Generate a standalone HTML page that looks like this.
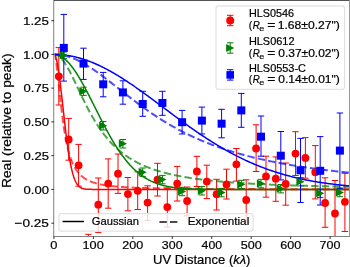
<!DOCTYPE html>
<html><head><meta charset="utf-8"><style>
html,body{margin:0;padding:0;background:#fff;}
svg{display:block;will-change:transform;}
text{font-family:"Liberation Sans",sans-serif;fill:#000;stroke:#000;stroke-width:0.2px;}
</style></head><body>
<svg width="350" height="267" viewBox="0 0 350 267">
<rect width="350" height="267" fill="#fff"/>
<defs><clipPath id="ax"><rect x="53.9" y="0.4" width="295.5" height="236.0"/></clipPath></defs>
<g clip-path="url(#ax)">
<path d="M58.80,47.60V105.00M55.60,47.60H62.00M55.60,105.00H62.00" stroke="#ff0000" stroke-width="1.0" fill="none"/>
<path d="M68.70,118.40V160.20M65.50,118.40H71.90M65.50,160.20H71.90" stroke="#ff0000" stroke-width="1.0" fill="none"/>
<path d="M78.60,144.40V186.20M75.40,144.40H81.80M75.40,186.20H81.80" stroke="#ff0000" stroke-width="1.0" fill="none"/>
<path d="M88.40,234.30V278.00M85.20,234.30H91.60M85.20,278.00H91.60" stroke="#ff0000" stroke-width="1.0" fill="none"/>
<path d="M98.30,178.00V232.40M95.10,178.00H101.50M95.10,232.40H101.50" stroke="#ff0000" stroke-width="1.0" fill="none"/>
<path d="M108.20,158.90V208.20M105.00,158.90H111.40M105.00,208.20H111.40" stroke="#ff0000" stroke-width="1.0" fill="none"/>
<path d="M118.00,154.00V193.40M114.80,154.00H121.20M114.80,193.40H121.20" stroke="#ff0000" stroke-width="1.0" fill="none"/>
<path d="M127.90,177.50V210.80M124.70,177.50H131.10M124.70,210.80H131.10" stroke="#ff0000" stroke-width="1.0" fill="none"/>
<path d="M137.70,171.80V209.50M134.50,171.80H140.90M134.50,209.50H140.90" stroke="#ff0000" stroke-width="1.0" fill="none"/>
<path d="M147.60,185.80V220.40M144.40,185.80H150.80M144.40,220.40H150.80" stroke="#ff0000" stroke-width="1.0" fill="none"/>
<path d="M157.50,163.30V196.00M154.30,163.30H160.70M154.30,196.00H160.70" stroke="#ff0000" stroke-width="1.0" fill="none"/>
<path d="M167.30,188.10V227.00M164.10,188.10H170.50M164.10,227.00H170.50" stroke="#ff0000" stroke-width="1.0" fill="none"/>
<path d="M177.20,166.40V201.00M174.00,166.40H180.40M174.00,201.00H180.40" stroke="#ff0000" stroke-width="1.0" fill="none"/>
<path d="M187.10,187.00V215.90M183.90,187.00H190.30M183.90,215.90H190.30" stroke="#ff0000" stroke-width="1.0" fill="none"/>
<path d="M196.90,156.30V186.50M193.70,156.30H200.10M193.70,186.50H200.10" stroke="#ff0000" stroke-width="1.0" fill="none"/>
<path d="M206.80,165.20V198.60M203.60,165.20H210.00M203.60,198.60H210.00" stroke="#ff0000" stroke-width="1.0" fill="none"/>
<path d="M216.60,179.30V210.00M213.40,179.30H219.80M213.40,210.00H219.80" stroke="#ff0000" stroke-width="1.0" fill="none"/>
<path d="M226.50,169.20V199.00M223.30,169.20H229.70M223.30,199.00H229.70" stroke="#ff0000" stroke-width="1.0" fill="none"/>
<path d="M236.40,148.50V181.10M233.20,148.50H239.60M233.20,181.10H239.60" stroke="#ff0000" stroke-width="1.0" fill="none"/>
<path d="M246.20,179.80V222.00M243.00,179.80H249.40M243.00,222.00H249.40" stroke="#ff0000" stroke-width="1.0" fill="none"/>
<path d="M256.10,124.80V171.50M252.90,124.80H259.30M252.90,171.50H259.30" stroke="#ff0000" stroke-width="1.0" fill="none"/>
<path d="M266.00,156.20V197.20M262.80,156.20H269.20M262.80,197.20H269.20" stroke="#ff0000" stroke-width="1.0" fill="none"/>
<path d="M275.80,156.90V201.30M272.60,156.90H279.00M272.60,201.30H279.00" stroke="#ff0000" stroke-width="1.0" fill="none"/>
<path d="M285.70,163.00V205.20M282.50,163.00H288.90M282.50,205.20H288.90" stroke="#ff0000" stroke-width="1.0" fill="none"/>
<path d="M295.50,131.70V175.50M292.30,131.70H298.70M292.30,175.50H298.70" stroke="#ff0000" stroke-width="1.0" fill="none"/>
<path d="M305.40,137.60V178.20M302.20,137.60H308.60M302.20,178.20H308.60" stroke="#ff0000" stroke-width="1.0" fill="none"/>
<path d="M315.30,145.60V198.90M312.10,145.60H318.50M312.10,198.90H318.50" stroke="#ff0000" stroke-width="1.0" fill="none"/>
<path d="M325.10,177.80V227.30M321.90,177.80H328.30M321.90,227.30H328.30" stroke="#ff0000" stroke-width="1.0" fill="none"/>
<path d="M335.00,180.50V246.50M331.80,180.50H338.20M331.80,246.50H338.20" stroke="#ff0000" stroke-width="1.0" fill="none"/>
<path d="M344.90,173.30V231.50M341.70,173.30H348.10M341.70,231.50H348.10" stroke="#ff0000" stroke-width="1.0" fill="none"/>
<path d="M53.90,54.40 L53.92,54.40 L53.96,54.40 L54.02,54.41 L54.09,54.43 L54.17,54.46 L54.26,54.51 L54.36,54.57 L54.47,54.67 L54.59,54.79 L54.72,54.95 L54.85,55.14 L55.00,55.38 L55.15,55.66 L55.30,56.00 L55.47,56.39 L55.64,56.84 L55.82,57.36 L56.00,57.94 L56.19,58.60 L56.38,59.34 L56.59,60.16 L56.79,61.06 L57.01,62.05 L57.23,63.12 L57.45,64.30 L57.68,65.56 L57.92,66.93 L58.16,68.39 L58.40,69.95 L58.65,71.62 L58.91,73.38 L59.17,75.25 L59.44,77.21 L59.71,79.27 L59.98,81.43 L60.26,83.69 L60.55,86.03 L60.84,88.46 L61.13,90.97 L61.43,93.56 L61.74,96.22 L62.04,98.95 L62.36,101.74 L62.67,104.58 L62.99,107.47 L63.32,110.40 L63.65,113.36 L63.98,116.34 L64.32,119.33 L64.66,122.34 L65.01,125.34 L65.36,128.33 L65.72,131.30 L66.08,134.24 L66.44,137.14 L66.80,140.01 L67.18,142.82 L67.55,145.57 L67.93,148.26 L68.31,150.87 L68.70,153.41 L69.09,155.86 L69.48,158.23 L69.88,160.50 L70.28,162.68 L70.68,164.76 L71.09,166.74 L71.51,168.62 L71.92,170.40 L72.34,172.08 L72.76,173.66 L73.19,175.13 L73.62,176.51 L74.06,177.79 L74.49,178.97 L74.94,180.07 L75.38,181.07 L75.83,182.00 L76.28,182.84 L76.73,183.60 L77.19,184.30 L77.65,184.93 L78.12,185.49 L78.59,186.00 L79.06,186.45 L79.54,186.85 L80.01,187.20 L80.50,187.51 L80.98,187.79 L81.47,188.03 L81.96,188.24 L82.46,188.42 L82.95,188.57 L83.46,188.71 L83.96,188.82 L84.47,188.92 L84.98,189.00 L85.49,189.07 L86.01,189.13 L86.53,189.18 L87.06,189.22 L87.58,189.26 L88.11,189.28 L88.65,189.31 L89.18,189.33 L89.72,189.34 L90.26,189.35 L90.81,189.36 L91.36,189.37 L91.91,189.38 L92.46,189.38 L93.02,189.39 L93.58,189.39 L94.14,189.39 L94.71,189.39 L95.28,189.40 L95.85,189.40 L96.43,189.40 L97.00,189.40 L97.58,189.40 L98.17,189.40 L98.76,189.40 L99.35,189.40 L99.94,189.40 L100.53,189.40 L101.13,189.40 L101.73,189.40 L102.34,189.40 L102.94,189.40 L103.55,189.40 L104.17,189.40 L104.78,189.40 L105.40,189.40 L106.02,189.40 L106.64,189.40 L107.27,189.40 L107.90,189.40 L108.53,189.40 L109.17,189.40 L109.80,189.40 L110.44,189.40 L111.09,189.40 L111.73,189.40 L112.38,189.40 L113.03,189.40 L113.69,189.40 L114.34,189.40 L115.00,189.40 L115.66,189.40 L116.33,189.40 L117.00,189.40 L117.67,189.40 L118.34,189.40 L119.01,189.40 L119.69,189.40 L120.37,189.40 L121.06,189.40 L121.74,189.40 L122.43,189.40 L123.12,189.40 L123.81,189.40 L124.51,189.40 L125.21,189.40 L125.91,189.40 L126.61,189.40 L127.32,189.40 L128.03,189.40 L128.74,189.40 L129.45,189.40 L130.17,189.40 L130.89,189.40 L131.61,189.40 L132.34,189.40 L133.06,189.40 L133.79,189.40 L134.52,189.40 L135.26,189.40 L135.99,189.40 L136.73,189.40 L137.48,189.40 L138.22,189.40 L138.97,189.40 L139.72,189.40 L140.47,189.40 L141.22,189.40 L141.98,189.40 L142.74,189.40 L143.50,189.40 L144.26,189.40 L145.03,189.40 L145.80,189.40 L146.57,189.40 L147.34,189.40 L148.12,189.40 L148.89,189.40 L149.67,189.40 L150.46,189.40 L151.24,189.40 L152.03,189.40 L152.82,189.40 L153.61,189.40 L154.41,189.40 L155.21,189.40 L156.01,189.40 L156.81,189.40 L157.61,189.40 L158.42,189.40 L159.23,189.40 L160.04,189.40 L160.85,189.40 L161.67,189.40 L162.49,189.40 L163.31,189.40 L164.13,189.40 L164.96,189.40 L165.78,189.40 L166.61,189.40 L167.45,189.40 L168.28,189.40 L169.12,189.40 L169.96,189.40 L170.80,189.40 L171.64,189.40 L172.49,189.40 L173.34,189.40 L174.19,189.40 L175.04,189.40 L175.89,189.40 L176.75,189.40 L177.61,189.40 L178.47,189.40 L179.34,189.40 L180.20,189.40 L181.07,189.40 L181.94,189.40 L182.81,189.40 L183.69,189.40 L184.57,189.40 L185.45,189.40 L186.33,189.40 L187.21,189.40 L188.10,189.40 L188.99,189.40 L189.88,189.40 L190.77,189.40 L191.66,189.40 L192.56,189.40 L193.46,189.40 L194.36,189.40 L195.27,189.40 L196.17,189.40 L197.08,189.40 L197.99,189.40 L198.90,189.40 L199.82,189.40 L200.73,189.40 L201.65,189.40 L202.57,189.40 L203.50,189.40 L204.42,189.40 L205.35,189.40 L206.28,189.40 L207.21,189.40 L208.14,189.40 L209.08,189.40 L210.02,189.40 L210.96,189.40 L211.90,189.40 L212.84,189.40 L213.79,189.40 L214.74,189.40 L215.69,189.40 L216.64,189.40 L217.60,189.40 L218.55,189.40 L219.51,189.40 L220.47,189.40 L221.44,189.40 L222.40,189.40 L223.37,189.40 L224.34,189.40 L225.31,189.40 L226.29,189.40 L227.26,189.40 L228.24,189.40 L229.22,189.40 L230.20,189.40 L231.18,189.40 L232.17,189.40 L233.16,189.40 L234.15,189.40 L235.14,189.40 L236.13,189.40 L237.13,189.40 L238.13,189.40 L239.13,189.40 L240.13,189.40 L241.14,189.40 L242.14,189.40 L243.15,189.40 L244.16,189.40 L245.17,189.40 L246.19,189.40 L247.20,189.40 L248.22,189.40 L249.24,189.40 L250.26,189.40 L251.29,189.40 L252.32,189.40 L253.34,189.40 L254.37,189.40 L255.41,189.40 L256.44,189.40 L257.48,189.40 L258.52,189.40 L259.56,189.40 L260.60,189.40 L261.64,189.40 L262.69,189.40 L263.74,189.40 L264.79,189.40 L265.84,189.40 L266.89,189.40 L267.95,189.40 L269.01,189.40 L270.07,189.40 L271.13,189.40 L272.19,189.40 L273.26,189.40 L274.33,189.40 L275.40,189.40 L276.47,189.40 L277.54,189.40 L278.62,189.40 L279.69,189.40 L280.77,189.40 L281.86,189.40 L282.94,189.40 L284.02,189.40 L285.11,189.40 L286.20,189.40 L287.29,189.40 L288.38,189.40 L289.48,189.40 L290.57,189.40 L291.67,189.40 L292.77,189.40 L293.88,189.40 L294.98,189.40 L296.09,189.40 L297.19,189.40 L298.30,189.40 L299.42,189.40 L300.53,189.40 L301.65,189.40 L302.76,189.40 L303.88,189.40 L305.00,189.40 L306.13,189.40 L307.25,189.40 L308.38,189.40 L309.51,189.40 L310.64,189.40 L311.77,189.40 L312.91,189.40 L314.04,189.40 L315.18,189.40 L316.32,189.40 L317.46,189.40 L318.61,189.40 L319.75,189.40 L320.90,189.40 L322.05,189.40 L323.20,189.40 L324.35,189.40 L325.51,189.40 L326.66,189.40 L327.82,189.40 L328.98,189.40 L330.15,189.40 L331.31,189.40 L332.48,189.40 L333.64,189.40 L334.81,189.40 L335.98,189.40 L337.16,189.40 L338.33,189.40 L339.51,189.40 L340.69,189.40 L341.87,189.40 L343.05,189.40 L344.23,189.40 L345.42,189.40 L346.61,189.40 L347.80,189.40 L348.99,189.40 L350.18,189.40 L351.38,189.40 L352.57,189.40 L353.77,189.40" fill="none" stroke="#ff0000" stroke-width="1.5" stroke-linejoin="round"/>
<path d="M53.90,54.40 L53.92,54.40 L53.96,54.41 L54.02,54.42 L54.09,54.46 L54.17,54.52 L54.26,54.61 L54.36,54.74 L54.47,54.93 L54.59,55.16 L54.72,55.47 L54.85,55.85 L55.00,56.30 L55.15,56.85 L55.30,57.49 L55.47,58.23 L55.64,59.08 L55.82,60.04 L56.00,61.11 L56.19,62.31 L56.38,63.62 L56.59,65.06 L56.79,66.61 L57.01,68.29 L57.23,70.08 L57.45,71.98 L57.68,73.99 L57.92,76.10 L58.16,78.31 L58.40,80.60 L58.65,82.97 L58.91,85.40 L59.17,87.89 L59.44,90.43 L59.71,93.01 L59.98,95.62 L60.26,98.25 L60.55,100.88 L60.84,103.51 L61.13,106.14 L61.43,108.75 L61.74,111.33 L62.04,113.88 L62.36,116.40 L62.67,118.87 L62.99,121.30 L63.32,123.67 L63.65,125.99 L63.98,128.25 L64.32,130.45 L64.66,132.59 L65.01,134.66 L65.36,136.67 L65.72,138.62 L66.08,140.50 L66.44,142.31 L66.80,144.06 L67.18,145.75 L67.55,147.38 L67.93,148.95 L68.31,150.45 L68.70,151.90 L69.09,153.30 L69.48,154.63 L69.88,155.92 L70.28,157.15 L70.68,158.34 L71.09,159.47 L71.51,160.56 L71.92,161.61 L72.34,162.61 L72.76,163.57 L73.19,164.49 L73.62,165.38 L74.06,166.22 L74.49,167.04 L74.94,167.82 L75.38,168.57 L75.83,169.28 L76.28,169.97 L76.73,170.63 L77.19,171.26 L77.65,171.87 L78.12,172.45 L78.59,173.01 L79.06,173.55 L79.54,174.07 L80.01,174.56 L80.50,175.04 L80.98,175.50 L81.47,175.94 L81.96,176.36 L82.46,176.77 L82.95,177.16 L83.46,177.53 L83.96,177.89 L84.47,178.24 L84.98,178.58 L85.49,178.90 L86.01,179.21 L86.53,179.51 L87.06,179.80 L87.58,180.07 L88.11,180.34 L88.65,180.60 L89.18,180.85 L89.72,181.09 L90.26,181.32 L90.81,181.54 L91.36,181.76 L91.91,181.96 L92.46,182.17 L93.02,182.36 L93.58,182.55 L94.14,182.73 L94.71,182.90 L95.28,183.07 L95.85,183.24 L96.43,183.39 L97.00,183.55 L97.58,183.70 L98.17,183.84 L98.76,183.98 L99.35,184.11 L99.94,184.24 L100.53,184.37 L101.13,184.49 L101.73,184.61 L102.34,184.72 L102.94,184.83 L103.55,184.94 L104.17,185.05 L104.78,185.15 L105.40,185.25 L106.02,185.34 L106.64,185.43 L107.27,185.52 L107.90,185.61 L108.53,185.70 L109.17,185.78 L109.80,185.86 L110.44,185.94 L111.09,186.01 L111.73,186.08 L112.38,186.16 L113.03,186.23 L113.69,186.29 L114.34,186.36 L115.00,186.42 L115.66,186.48 L116.33,186.55 L117.00,186.60 L117.67,186.66 L118.34,186.72 L119.01,186.77 L119.69,186.82 L120.37,186.88 L121.06,186.93 L121.74,186.97 L122.43,187.02 L123.12,187.07 L123.81,187.11 L124.51,187.16 L125.21,187.20 L125.91,187.24 L126.61,187.28 L127.32,187.32 L128.03,187.36 L128.74,187.40 L129.45,187.44 L130.17,187.47 L130.89,187.51 L131.61,187.54 L132.34,187.58 L133.06,187.61 L133.79,187.64 L134.52,187.67 L135.26,187.70 L135.99,187.73 L136.73,187.76 L137.48,187.79 L138.22,187.82 L138.97,187.85 L139.72,187.87 L140.47,187.90 L141.22,187.93 L141.98,187.95 L142.74,187.97 L143.50,188.00 L144.26,188.02 L145.03,188.04 L145.80,188.07 L146.57,188.09 L147.34,188.11 L148.12,188.13 L148.89,188.15 L149.67,188.17 L150.46,188.19 L151.24,188.21 L152.03,188.23 L152.82,188.25 L153.61,188.27 L154.41,188.28 L155.21,188.30 L156.01,188.32 L156.81,188.34 L157.61,188.35 L158.42,188.37 L159.23,188.38 L160.04,188.40 L160.85,188.41 L161.67,188.43 L162.49,188.44 L163.31,188.46 L164.13,188.47 L164.96,188.48 L165.78,188.50 L166.61,188.51 L167.45,188.52 L168.28,188.54 L169.12,188.55 L169.96,188.56 L170.80,188.57 L171.64,188.59 L172.49,188.60 L173.34,188.61 L174.19,188.62 L175.04,188.63 L175.89,188.64 L176.75,188.65 L177.61,188.66 L178.47,188.67 L179.34,188.68 L180.20,188.69 L181.07,188.70 L181.94,188.71 L182.81,188.72 L183.69,188.73 L184.57,188.74 L185.45,188.75 L186.33,188.75 L187.21,188.76 L188.10,188.77 L188.99,188.78 L189.88,188.79 L190.77,188.80 L191.66,188.80 L192.56,188.81 L193.46,188.82 L194.36,188.83 L195.27,188.83 L196.17,188.84 L197.08,188.85 L197.99,188.85 L198.90,188.86 L199.82,188.87 L200.73,188.87 L201.65,188.88 L202.57,188.89 L203.50,188.89 L204.42,188.90 L205.35,188.91 L206.28,188.91 L207.21,188.92 L208.14,188.92 L209.08,188.93 L210.02,188.94 L210.96,188.94 L211.90,188.95 L212.84,188.95 L213.79,188.96 L214.74,188.96 L215.69,188.97 L216.64,188.97 L217.60,188.98 L218.55,188.98 L219.51,188.99 L220.47,188.99 L221.44,189.00 L222.40,189.00 L223.37,189.01 L224.34,189.01 L225.31,189.01 L226.29,189.02 L227.26,189.02 L228.24,189.03 L229.22,189.03 L230.20,189.04 L231.18,189.04 L232.17,189.04 L233.16,189.05 L234.15,189.05 L235.14,189.05 L236.13,189.06 L237.13,189.06 L238.13,189.07 L239.13,189.07 L240.13,189.07 L241.14,189.08 L242.14,189.08 L243.15,189.08 L244.16,189.09 L245.17,189.09 L246.19,189.09 L247.20,189.10 L248.22,189.10 L249.24,189.10 L250.26,189.11 L251.29,189.11 L252.32,189.11 L253.34,189.11 L254.37,189.12 L255.41,189.12 L256.44,189.12 L257.48,189.13 L258.52,189.13 L259.56,189.13 L260.60,189.13 L261.64,189.14 L262.69,189.14 L263.74,189.14 L264.79,189.14 L265.84,189.15 L266.89,189.15 L267.95,189.15 L269.01,189.15 L270.07,189.16 L271.13,189.16 L272.19,189.16 L273.26,189.16 L274.33,189.17 L275.40,189.17 L276.47,189.17 L277.54,189.17 L278.62,189.18 L279.69,189.18 L280.77,189.18 L281.86,189.18 L282.94,189.18 L284.02,189.19 L285.11,189.19 L286.20,189.19 L287.29,189.19 L288.38,189.19 L289.48,189.20 L290.57,189.20 L291.67,189.20 L292.77,189.20 L293.88,189.20 L294.98,189.20 L296.09,189.21 L297.19,189.21 L298.30,189.21 L299.42,189.21 L300.53,189.21 L301.65,189.22 L302.76,189.22 L303.88,189.22 L305.00,189.22 L306.13,189.22 L307.25,189.22 L308.38,189.22 L309.51,189.23 L310.64,189.23 L311.77,189.23 L312.91,189.23 L314.04,189.23 L315.18,189.23 L316.32,189.24 L317.46,189.24 L318.61,189.24 L319.75,189.24 L320.90,189.24 L322.05,189.24 L323.20,189.24 L324.35,189.24 L325.51,189.25 L326.66,189.25 L327.82,189.25 L328.98,189.25 L330.15,189.25 L331.31,189.25 L332.48,189.25 L333.64,189.25 L334.81,189.26 L335.98,189.26 L337.16,189.26 L338.33,189.26 L339.51,189.26 L340.69,189.26 L341.87,189.26 L343.05,189.26 L344.23,189.27 L345.42,189.27 L346.61,189.27 L347.80,189.27 L348.99,189.27 L350.18,189.27 L351.38,189.27 L352.57,189.27 L353.77,189.27" fill="none" stroke="#ff0000" stroke-width="2" stroke-dasharray="7.4,3.2" stroke-dashoffset="1.3" stroke-opacity="0.7" stroke-linejoin="round"/>
<path d="M63.80,52.00V58.40M60.60,52.00H67.00M60.60,58.40H67.00" stroke="#008000" stroke-width="1.0" fill="none"/>
<path d="M83.50,87.20V95.40M80.30,87.20H86.70M80.30,95.40H86.70" stroke="#008000" stroke-width="1.0" fill="none"/>
<path d="M103.20,121.50V130.00M100.00,121.50H106.40M100.00,130.00H106.40" stroke="#008000" stroke-width="1.0" fill="none"/>
<path d="M122.90,139.50V148.00M119.70,139.50H126.10M119.70,148.00H126.10" stroke="#008000" stroke-width="1.0" fill="none"/>
<path d="M142.70,168.00V176.40M139.50,168.00H145.90M139.50,176.40H145.90" stroke="#008000" stroke-width="1.0" fill="none"/>
<path d="M162.40,175.40V183.80M159.20,175.40H165.60M159.20,183.80H165.60" stroke="#008000" stroke-width="1.0" fill="none"/>
<path d="M182.10,187.30V195.70M178.90,187.30H185.30M178.90,195.70H185.30" stroke="#008000" stroke-width="1.0" fill="none"/>
<path d="M201.90,186.60V195.00M198.70,186.60H205.10M198.70,195.00H205.10" stroke="#008000" stroke-width="1.0" fill="none"/>
<path d="M221.60,188.40V196.80M218.40,188.40H224.80M218.40,196.80H224.80" stroke="#008000" stroke-width="1.0" fill="none"/>
<path d="M241.30,180.30V188.70M238.10,180.30H244.50M238.10,188.70H244.50" stroke="#008000" stroke-width="1.0" fill="none"/>
<path d="M261.00,179.40V187.80M257.80,179.40H264.20M257.80,187.80H264.20" stroke="#008000" stroke-width="1.0" fill="none"/>
<path d="M280.80,184.50V192.90M277.60,184.50H284.00M277.60,192.90H284.00" stroke="#008000" stroke-width="1.0" fill="none"/>
<path d="M300.50,177.50V185.90M297.30,177.50H303.70M297.30,185.90H303.70" stroke="#008000" stroke-width="1.0" fill="none"/>
<path d="M320.20,189.10V197.50M317.00,189.10H323.40M317.00,197.50H323.40" stroke="#008000" stroke-width="1.0" fill="none"/>
<path d="M339.90,188.30V196.70M336.70,188.30H343.10M336.70,196.70H343.10" stroke="#008000" stroke-width="1.0" fill="none"/>
<path d="M53.90,54.40 L53.92,54.40 L53.96,54.40 L54.02,54.40 L54.09,54.40 L54.17,54.40 L54.26,54.41 L54.36,54.41 L54.47,54.41 L54.59,54.42 L54.72,54.43 L54.85,54.44 L55.00,54.45 L55.15,54.46 L55.30,54.48 L55.47,54.50 L55.64,54.52 L55.82,54.55 L56.00,54.58 L56.19,54.61 L56.38,54.65 L56.59,54.69 L56.79,54.73 L57.01,54.78 L57.23,54.84 L57.45,54.90 L57.68,54.97 L57.92,55.04 L58.16,55.12 L58.40,55.21 L58.65,55.30 L58.91,55.40 L59.17,55.50 L59.44,55.62 L59.71,55.74 L59.98,55.87 L60.26,56.01 L60.55,56.15 L60.84,56.31 L61.13,56.47 L61.43,56.64 L61.74,56.83 L62.04,57.02 L62.36,57.22 L62.67,57.44 L62.99,57.66 L63.32,57.89 L63.65,58.14 L63.98,58.40 L64.32,58.66 L64.66,58.94 L65.01,59.24 L65.36,59.54 L65.72,59.86 L66.08,60.19 L66.44,60.53 L66.80,60.88 L67.18,61.25 L67.55,61.63 L67.93,62.03 L68.31,62.43 L68.70,62.86 L69.09,63.29 L69.48,63.74 L69.88,64.21 L70.28,64.69 L70.68,65.18 L71.09,65.69 L71.51,66.21 L71.92,66.75 L72.34,67.31 L72.76,67.87 L73.19,68.46 L73.62,69.06 L74.06,69.67 L74.49,70.30 L74.94,70.94 L75.38,71.60 L75.83,72.28 L76.28,72.97 L76.73,73.67 L77.19,74.40 L77.65,75.13 L78.12,75.88 L78.59,76.65 L79.06,77.43 L79.54,78.23 L80.01,79.04 L80.50,79.86 L80.98,80.70 L81.47,81.55 L81.96,82.42 L82.46,83.31 L82.95,84.20 L83.46,85.11 L83.96,86.03 L84.47,86.97 L84.98,87.92 L85.49,88.88 L86.01,89.86 L86.53,90.84 L87.06,91.84 L87.58,92.85 L88.11,93.87 L88.65,94.90 L89.18,95.94 L89.72,97.00 L90.26,98.06 L90.81,99.13 L91.36,100.21 L91.91,101.30 L92.46,102.40 L93.02,103.51 L93.58,104.62 L94.14,105.74 L94.71,106.87 L95.28,108.00 L95.85,109.14 L96.43,110.28 L97.00,111.43 L97.58,112.58 L98.17,113.74 L98.76,114.90 L99.35,116.06 L99.94,117.23 L100.53,118.40 L101.13,119.57 L101.73,120.73 L102.34,121.90 L102.94,123.07 L103.55,124.24 L104.17,125.41 L104.78,126.58 L105.40,127.74 L106.02,128.90 L106.64,130.06 L107.27,131.21 L107.90,132.36 L108.53,133.51 L109.17,134.65 L109.80,135.78 L110.44,136.91 L111.09,138.03 L111.73,139.15 L112.38,140.26 L113.03,141.36 L113.69,142.45 L114.34,143.53 L115.00,144.60 L115.66,145.67 L116.33,146.72 L117.00,147.76 L117.67,148.80 L118.34,149.82 L119.01,150.83 L119.69,151.83 L120.37,152.81 L121.06,153.79 L121.74,154.75 L122.43,155.69 L123.12,156.63 L123.81,157.55 L124.51,158.46 L125.21,159.35 L125.91,160.23 L126.61,161.09 L127.32,161.94 L128.03,162.78 L128.74,163.60 L129.45,164.41 L130.17,165.20 L130.89,165.97 L131.61,166.73 L132.34,167.48 L133.06,168.21 L133.79,168.92 L134.52,169.62 L135.26,170.30 L135.99,170.97 L136.73,171.62 L137.48,172.26 L138.22,172.88 L138.97,173.49 L139.72,174.08 L140.47,174.65 L141.22,175.21 L141.98,175.76 L142.74,176.29 L143.50,176.80 L144.26,177.31 L145.03,177.79 L145.80,178.26 L146.57,178.72 L147.34,179.17 L148.12,179.60 L148.89,180.02 L149.67,180.42 L150.46,180.81 L151.24,181.19 L152.03,181.55 L152.82,181.91 L153.61,182.25 L154.41,182.58 L155.21,182.89 L156.01,183.20 L156.81,183.49 L157.61,183.78 L158.42,184.05 L159.23,184.31 L160.04,184.56 L160.85,184.80 L161.67,185.03 L162.49,185.26 L163.31,185.47 L164.13,185.67 L164.96,185.87 L165.78,186.06 L166.61,186.24 L167.45,186.41 L168.28,186.57 L169.12,186.73 L169.96,186.88 L170.80,187.02 L171.64,187.15 L172.49,187.28 L173.34,187.41 L174.19,187.52 L175.04,187.63 L175.89,187.74 L176.75,187.84 L177.61,187.93 L178.47,188.02 L179.34,188.11 L180.20,188.19 L181.07,188.26 L181.94,188.34 L182.81,188.41 L183.69,188.47 L184.57,188.53 L185.45,188.59 L186.33,188.64 L187.21,188.69 L188.10,188.74 L188.99,188.79 L189.88,188.83 L190.77,188.87 L191.66,188.90 L192.56,188.94 L193.46,188.97 L194.36,189.00 L195.27,189.03 L196.17,189.06 L197.08,189.08 L197.99,189.11 L198.90,189.13 L199.82,189.15 L200.73,189.17 L201.65,189.19 L202.57,189.20 L203.50,189.22 L204.42,189.23 L205.35,189.25 L206.28,189.26 L207.21,189.27 L208.14,189.28 L209.08,189.29 L210.02,189.30 L210.96,189.31 L211.90,189.32 L212.84,189.32 L213.79,189.33 L214.74,189.34 L215.69,189.34 L216.64,189.35 L217.60,189.35 L218.55,189.36 L219.51,189.36 L220.47,189.36 L221.44,189.37 L222.40,189.37 L223.37,189.37 L224.34,189.37 L225.31,189.38 L226.29,189.38 L227.26,189.38 L228.24,189.38 L229.22,189.38 L230.20,189.39 L231.18,189.39 L232.17,189.39 L233.16,189.39 L234.15,189.39 L235.14,189.39 L236.13,189.39 L237.13,189.39 L238.13,189.39 L239.13,189.39 L240.13,189.40 L241.14,189.40 L242.14,189.40 L243.15,189.40 L244.16,189.40 L245.17,189.40 L246.19,189.40 L247.20,189.40 L248.22,189.40 L249.24,189.40 L250.26,189.40 L251.29,189.40 L252.32,189.40 L253.34,189.40 L254.37,189.40 L255.41,189.40 L256.44,189.40 L257.48,189.40 L258.52,189.40 L259.56,189.40 L260.60,189.40 L261.64,189.40 L262.69,189.40 L263.74,189.40 L264.79,189.40 L265.84,189.40 L266.89,189.40 L267.95,189.40 L269.01,189.40 L270.07,189.40 L271.13,189.40 L272.19,189.40 L273.26,189.40 L274.33,189.40 L275.40,189.40 L276.47,189.40 L277.54,189.40 L278.62,189.40 L279.69,189.40 L280.77,189.40 L281.86,189.40 L282.94,189.40 L284.02,189.40 L285.11,189.40 L286.20,189.40 L287.29,189.40 L288.38,189.40 L289.48,189.40 L290.57,189.40 L291.67,189.40 L292.77,189.40 L293.88,189.40 L294.98,189.40 L296.09,189.40 L297.19,189.40 L298.30,189.40 L299.42,189.40 L300.53,189.40 L301.65,189.40 L302.76,189.40 L303.88,189.40 L305.00,189.40 L306.13,189.40 L307.25,189.40 L308.38,189.40 L309.51,189.40 L310.64,189.40 L311.77,189.40 L312.91,189.40 L314.04,189.40 L315.18,189.40 L316.32,189.40 L317.46,189.40 L318.61,189.40 L319.75,189.40 L320.90,189.40 L322.05,189.40 L323.20,189.40 L324.35,189.40 L325.51,189.40 L326.66,189.40 L327.82,189.40 L328.98,189.40 L330.15,189.40 L331.31,189.40 L332.48,189.40 L333.64,189.40 L334.81,189.40 L335.98,189.40 L337.16,189.40 L338.33,189.40 L339.51,189.40 L340.69,189.40 L341.87,189.40 L343.05,189.40 L344.23,189.40 L345.42,189.40 L346.61,189.40 L347.80,189.40 L348.99,189.40 L350.18,189.40 L351.38,189.40 L352.57,189.40 L353.77,189.40" fill="none" stroke="#008000" stroke-width="1.5" stroke-linejoin="round"/>
<path d="M53.90,54.40 L53.92,54.40 L53.96,54.40 L54.02,54.40 L54.09,54.40 L54.17,54.41 L54.26,54.41 L54.36,54.42 L54.47,54.43 L54.59,54.44 L54.72,54.45 L54.85,54.47 L55.00,54.49 L55.15,54.52 L55.30,54.55 L55.47,54.59 L55.64,54.64 L55.82,54.69 L56.00,54.74 L56.19,54.81 L56.38,54.88 L56.59,54.96 L56.79,55.05 L57.01,55.15 L57.23,55.26 L57.45,55.38 L57.68,55.51 L57.92,55.65 L58.16,55.80 L58.40,55.97 L58.65,56.15 L58.91,56.34 L59.17,56.54 L59.44,56.76 L59.71,56.99 L59.98,57.24 L60.26,57.50 L60.55,57.77 L60.84,58.07 L61.13,58.37 L61.43,58.70 L61.74,59.04 L62.04,59.40 L62.36,59.77 L62.67,60.17 L62.99,60.58 L63.32,61.00 L63.65,61.45 L63.98,61.91 L64.32,62.40 L64.66,62.90 L65.01,63.42 L65.36,63.95 L65.72,64.51 L66.08,65.08 L66.44,65.67 L66.80,66.28 L67.18,66.91 L67.55,67.56 L67.93,68.22 L68.31,68.91 L68.70,69.60 L69.09,70.32 L69.48,71.05 L69.88,71.80 L70.28,72.57 L70.68,73.35 L71.09,74.15 L71.51,74.96 L71.92,75.79 L72.34,76.63 L72.76,77.49 L73.19,78.36 L73.62,79.24 L74.06,80.13 L74.49,81.04 L74.94,81.96 L75.38,82.89 L75.83,83.83 L76.28,84.78 L76.73,85.73 L77.19,86.70 L77.65,87.67 L78.12,88.66 L78.59,89.65 L79.06,90.64 L79.54,91.64 L80.01,92.65 L80.50,93.66 L80.98,94.67 L81.47,95.69 L81.96,96.71 L82.46,97.73 L82.95,98.76 L83.46,99.78 L83.96,100.81 L84.47,101.83 L84.98,102.86 L85.49,103.88 L86.01,104.91 L86.53,105.93 L87.06,106.94 L87.58,107.96 L88.11,108.97 L88.65,109.98 L89.18,110.98 L89.72,111.98 L90.26,112.98 L90.81,113.97 L91.36,114.95 L91.91,115.93 L92.46,116.90 L93.02,117.86 L93.58,118.82 L94.14,119.77 L94.71,120.71 L95.28,121.65 L95.85,122.57 L96.43,123.49 L97.00,124.40 L97.58,125.31 L98.17,126.20 L98.76,127.08 L99.35,127.96 L99.94,128.83 L100.53,129.68 L101.13,130.53 L101.73,131.37 L102.34,132.20 L102.94,133.02 L103.55,133.83 L104.17,134.63 L104.78,135.42 L105.40,136.20 L106.02,136.97 L106.64,137.73 L107.27,138.48 L107.90,139.22 L108.53,139.95 L109.17,140.67 L109.80,141.39 L110.44,142.09 L111.09,142.78 L111.73,143.46 L112.38,144.14 L113.03,144.80 L113.69,145.46 L114.34,146.10 L115.00,146.74 L115.66,147.36 L116.33,147.98 L117.00,148.59 L117.67,149.19 L118.34,149.78 L119.01,150.36 L119.69,150.93 L120.37,151.49 L121.06,152.05 L121.74,152.60 L122.43,153.13 L123.12,153.66 L123.81,154.18 L124.51,154.70 L125.21,155.20 L125.91,155.70 L126.61,156.19 L127.32,156.67 L128.03,157.15 L128.74,157.61 L129.45,158.07 L130.17,158.52 L130.89,158.97 L131.61,159.41 L132.34,159.84 L133.06,160.26 L133.79,160.68 L134.52,161.09 L135.26,161.49 L135.99,161.89 L136.73,162.28 L137.48,162.66 L138.22,163.04 L138.97,163.41 L139.72,163.78 L140.47,164.14 L141.22,164.49 L141.98,164.84 L142.74,165.18 L143.50,165.52 L144.26,165.85 L145.03,166.18 L145.80,166.50 L146.57,166.82 L147.34,167.13 L148.12,167.43 L148.89,167.73 L149.67,168.03 L150.46,168.32 L151.24,168.61 L152.03,168.89 L152.82,169.17 L153.61,169.44 L154.41,169.71 L155.21,169.97 L156.01,170.23 L156.81,170.49 L157.61,170.74 L158.42,170.99 L159.23,171.23 L160.04,171.47 L160.85,171.71 L161.67,171.94 L162.49,172.17 L163.31,172.40 L164.13,172.62 L164.96,172.83 L165.78,173.05 L166.61,173.26 L167.45,173.47 L168.28,173.67 L169.12,173.87 L169.96,174.07 L170.80,174.27 L171.64,174.46 L172.49,174.65 L173.34,174.84 L174.19,175.02 L175.04,175.20 L175.89,175.38 L176.75,175.55 L177.61,175.72 L178.47,175.89 L179.34,176.06 L180.20,176.23 L181.07,176.39 L181.94,176.55 L182.81,176.70 L183.69,176.86 L184.57,177.01 L185.45,177.16 L186.33,177.31 L187.21,177.46 L188.10,177.60 L188.99,177.74 L189.88,177.88 L190.77,178.02 L191.66,178.15 L192.56,178.29 L193.46,178.42 L194.36,178.55 L195.27,178.67 L196.17,178.80 L197.08,178.92 L197.99,179.04 L198.90,179.16 L199.82,179.28 L200.73,179.40 L201.65,179.51 L202.57,179.63 L203.50,179.74 L204.42,179.85 L205.35,179.96 L206.28,180.06 L207.21,180.17 L208.14,180.27 L209.08,180.38 L210.02,180.48 L210.96,180.58 L211.90,180.67 L212.84,180.77 L213.79,180.87 L214.74,180.96 L215.69,181.05 L216.64,181.14 L217.60,181.24 L218.55,181.32 L219.51,181.41 L220.47,181.50 L221.44,181.58 L222.40,181.67 L223.37,181.75 L224.34,181.83 L225.31,181.91 L226.29,181.99 L227.26,182.07 L228.24,182.15 L229.22,182.23 L230.20,182.30 L231.18,182.38 L232.17,182.45 L233.16,182.52 L234.15,182.59 L235.14,182.66 L236.13,182.73 L237.13,182.80 L238.13,182.87 L239.13,182.94 L240.13,183.00 L241.14,183.07 L242.14,183.13 L243.15,183.20 L244.16,183.26 L245.17,183.32 L246.19,183.38 L247.20,183.44 L248.22,183.50 L249.24,183.56 L250.26,183.62 L251.29,183.68 L252.32,183.73 L253.34,183.79 L254.37,183.84 L255.41,183.90 L256.44,183.95 L257.48,184.01 L258.52,184.06 L259.56,184.11 L260.60,184.16 L261.64,184.21 L262.69,184.26 L263.74,184.31 L264.79,184.36 L265.84,184.41 L266.89,184.45 L267.95,184.50 L269.01,184.55 L270.07,184.59 L271.13,184.64 L272.19,184.68 L273.26,184.73 L274.33,184.77 L275.40,184.81 L276.47,184.86 L277.54,184.90 L278.62,184.94 L279.69,184.98 L280.77,185.02 L281.86,185.06 L282.94,185.10 L284.02,185.14 L285.11,185.18 L286.20,185.22 L287.29,185.26 L288.38,185.29 L289.48,185.33 L290.57,185.37 L291.67,185.40 L292.77,185.44 L293.88,185.47 L294.98,185.51 L296.09,185.54 L297.19,185.58 L298.30,185.61 L299.42,185.64 L300.53,185.68 L301.65,185.71 L302.76,185.74 L303.88,185.77 L305.00,185.80 L306.13,185.84 L307.25,185.87 L308.38,185.90 L309.51,185.93 L310.64,185.96 L311.77,185.99 L312.91,186.02 L314.04,186.04 L315.18,186.07 L316.32,186.10 L317.46,186.13 L318.61,186.16 L319.75,186.18 L320.90,186.21 L322.05,186.24 L323.20,186.26 L324.35,186.29 L325.51,186.32 L326.66,186.34 L327.82,186.37 L328.98,186.39 L330.15,186.42 L331.31,186.44 L332.48,186.46 L333.64,186.49 L334.81,186.51 L335.98,186.54 L337.16,186.56 L338.33,186.58 L339.51,186.60 L340.69,186.63 L341.87,186.65 L343.05,186.67 L344.23,186.69 L345.42,186.71 L346.61,186.74 L347.80,186.76 L348.99,186.78 L350.18,186.80 L351.38,186.82 L352.57,186.84 L353.77,186.86" fill="none" stroke="#008000" stroke-width="2" stroke-dasharray="7.4,3.2" stroke-dashoffset="1.3" stroke-opacity="0.7" stroke-linejoin="round"/>
<path d="M63.80,14.40V81.10M60.60,14.40H67.00M60.60,81.10H67.00" stroke="#0000ff" stroke-width="1.0" fill="none"/>
<path d="M83.50,48.20V79.40M80.30,48.20H86.70M80.30,79.40H86.70" stroke="#0000ff" stroke-width="1.0" fill="none"/>
<path d="M103.20,72.40V96.80M100.00,72.40H106.40M100.00,96.80H106.40" stroke="#0000ff" stroke-width="1.0" fill="none"/>
<path d="M122.90,80.80V104.20M119.70,80.80H126.10M119.70,104.20H126.10" stroke="#0000ff" stroke-width="1.0" fill="none"/>
<path d="M142.70,91.30V116.30M139.50,91.30H145.90M139.50,116.30H145.90" stroke="#0000ff" stroke-width="1.0" fill="none"/>
<path d="M162.40,91.30V115.30M159.20,91.30H165.60M159.20,115.30H165.60" stroke="#0000ff" stroke-width="1.0" fill="none"/>
<path d="M182.10,110.40V134.00M178.90,110.40H185.30M178.90,134.00H185.30" stroke="#0000ff" stroke-width="1.0" fill="none"/>
<path d="M201.90,107.10V134.00M198.70,107.10H205.10M198.70,134.00H205.10" stroke="#0000ff" stroke-width="1.0" fill="none"/>
<path d="M221.60,109.30V137.80M218.40,109.30H224.80M218.40,137.80H224.80" stroke="#0000ff" stroke-width="1.0" fill="none"/>
<path d="M241.30,93.40V127.30M238.10,93.40H244.50M238.10,127.30H244.50" stroke="#0000ff" stroke-width="1.0" fill="none"/>
<path d="M261.00,116.00V156.20M257.80,116.00H264.20M257.80,156.20H264.20" stroke="#0000ff" stroke-width="1.0" fill="none"/>
<path d="M280.80,131.50V179.90M277.60,131.50H284.00M277.60,179.90H284.00" stroke="#0000ff" stroke-width="1.0" fill="none"/>
<path d="M300.50,138.40V202.50M297.30,138.40H303.70M297.30,202.50H303.70" stroke="#0000ff" stroke-width="1.0" fill="none"/>
<path d="M320.20,136.60V205.00M317.00,136.60H323.40M317.00,205.00H323.40" stroke="#0000ff" stroke-width="1.0" fill="none"/>
<path d="M339.90,113.00V188.20M336.70,113.00H343.10M336.70,188.20H343.10" stroke="#0000ff" stroke-width="1.0" fill="none"/>
<path d="M53.90,54.40 L53.92,54.40 L53.96,54.40 L54.02,54.40 L54.09,54.40 L54.17,54.40 L54.26,54.40 L54.36,54.40 L54.47,54.40 L54.59,54.40 L54.72,54.40 L54.85,54.41 L55.00,54.41 L55.15,54.41 L55.30,54.41 L55.47,54.41 L55.64,54.42 L55.82,54.42 L56.00,54.42 L56.19,54.43 L56.38,54.43 L56.59,54.44 L56.79,54.45 L57.01,54.45 L57.23,54.46 L57.45,54.47 L57.68,54.48 L57.92,54.49 L58.16,54.50 L58.40,54.51 L58.65,54.53 L58.91,54.54 L59.17,54.56 L59.44,54.57 L59.71,54.59 L59.98,54.61 L60.26,54.63 L60.55,54.65 L60.84,54.67 L61.13,54.69 L61.43,54.72 L61.74,54.75 L62.04,54.77 L62.36,54.80 L62.67,54.83 L62.99,54.87 L63.32,54.90 L63.65,54.93 L63.98,54.97 L64.32,55.01 L64.66,55.05 L65.01,55.09 L65.36,55.14 L65.72,55.18 L66.08,55.23 L66.44,55.28 L66.80,55.34 L67.18,55.39 L67.55,55.45 L67.93,55.50 L68.31,55.57 L68.70,55.63 L69.09,55.69 L69.48,55.76 L69.88,55.83 L70.28,55.90 L70.68,55.98 L71.09,56.06 L71.51,56.14 L71.92,56.22 L72.34,56.30 L72.76,56.39 L73.19,56.48 L73.62,56.57 L74.06,56.67 L74.49,56.77 L74.94,56.87 L75.38,56.98 L75.83,57.08 L76.28,57.19 L76.73,57.31 L77.19,57.42 L77.65,57.54 L78.12,57.67 L78.59,57.79 L79.06,57.92 L79.54,58.05 L80.01,58.19 L80.50,58.33 L80.98,58.47 L81.47,58.62 L81.96,58.77 L82.46,58.92 L82.95,59.08 L83.46,59.23 L83.96,59.40 L84.47,59.57 L84.98,59.74 L85.49,59.91 L86.01,60.09 L86.53,60.27 L87.06,60.46 L87.58,60.65 L88.11,60.84 L88.65,61.04 L89.18,61.24 L89.72,61.44 L90.26,61.65 L90.81,61.86 L91.36,62.08 L91.91,62.30 L92.46,62.53 L93.02,62.76 L93.58,62.99 L94.14,63.23 L94.71,63.47 L95.28,63.71 L95.85,63.96 L96.43,64.22 L97.00,64.48 L97.58,64.74 L98.17,65.01 L98.76,65.28 L99.35,65.55 L99.94,65.83 L100.53,66.12 L101.13,66.41 L101.73,66.70 L102.34,67.00 L102.94,67.30 L103.55,67.61 L104.17,67.92 L104.78,68.23 L105.40,68.55 L106.02,68.88 L106.64,69.20 L107.27,69.54 L107.90,69.87 L108.53,70.22 L109.17,70.56 L109.80,70.91 L110.44,71.27 L111.09,71.63 L111.73,71.99 L112.38,72.36 L113.03,72.74 L113.69,73.12 L114.34,73.50 L115.00,73.89 L115.66,74.28 L116.33,74.67 L117.00,75.07 L117.67,75.48 L118.34,75.89 L119.01,76.30 L119.69,76.72 L120.37,77.14 L121.06,77.57 L121.74,78.00 L122.43,78.44 L123.12,78.88 L123.81,79.32 L124.51,79.77 L125.21,80.22 L125.91,80.68 L126.61,81.14 L127.32,81.61 L128.03,82.08 L128.74,82.55 L129.45,83.03 L130.17,83.51 L130.89,84.00 L131.61,84.49 L132.34,84.98 L133.06,85.48 L133.79,85.98 L134.52,86.49 L135.26,87.00 L135.99,87.51 L136.73,88.03 L137.48,88.55 L138.22,89.07 L138.97,89.60 L139.72,90.13 L140.47,90.67 L141.22,91.21 L141.98,91.75 L142.74,92.30 L143.50,92.84 L144.26,93.40 L145.03,93.95 L145.80,94.51 L146.57,95.07 L147.34,95.64 L148.12,96.21 L148.89,96.78 L149.67,97.35 L150.46,97.93 L151.24,98.51 L152.03,99.09 L152.82,99.68 L153.61,100.26 L154.41,100.86 L155.21,101.45 L156.01,102.04 L156.81,102.64 L157.61,103.24 L158.42,103.84 L159.23,104.45 L160.04,105.05 L160.85,105.66 L161.67,106.27 L162.49,106.88 L163.31,107.50 L164.13,108.11 L164.96,108.73 L165.78,109.35 L166.61,109.97 L167.45,110.59 L168.28,111.22 L169.12,111.84 L169.96,112.47 L170.80,113.09 L171.64,113.72 L172.49,114.35 L173.34,114.98 L174.19,115.61 L175.04,116.24 L175.89,116.88 L176.75,117.51 L177.61,118.14 L178.47,118.78 L179.34,119.41 L180.20,120.04 L181.07,120.68 L181.94,121.31 L182.81,121.95 L183.69,122.58 L184.57,123.22 L185.45,123.85 L186.33,124.48 L187.21,125.12 L188.10,125.75 L188.99,126.38 L189.88,127.02 L190.77,127.65 L191.66,128.28 L192.56,128.91 L193.46,129.54 L194.36,130.16 L195.27,130.79 L196.17,131.42 L197.08,132.04 L197.99,132.66 L198.90,133.28 L199.82,133.90 L200.73,134.52 L201.65,135.14 L202.57,135.75 L203.50,136.37 L204.42,136.98 L205.35,137.59 L206.28,138.19 L207.21,138.80 L208.14,139.40 L209.08,140.00 L210.02,140.60 L210.96,141.20 L211.90,141.79 L212.84,142.38 L213.79,142.97 L214.74,143.56 L215.69,144.14 L216.64,144.72 L217.60,145.30 L218.55,145.87 L219.51,146.45 L220.47,147.01 L221.44,147.58 L222.40,148.14 L223.37,148.70 L224.34,149.26 L225.31,149.81 L226.29,150.36 L227.26,150.91 L228.24,151.45 L229.22,151.99 L230.20,152.52 L231.18,153.05 L232.17,153.58 L233.16,154.11 L234.15,154.63 L235.14,155.14 L236.13,155.66 L237.13,156.17 L238.13,156.67 L239.13,157.17 L240.13,157.67 L241.14,158.16 L242.14,158.65 L243.15,159.14 L244.16,159.62 L245.17,160.09 L246.19,160.57 L247.20,161.03 L248.22,161.50 L249.24,161.96 L250.26,162.41 L251.29,162.86 L252.32,163.31 L253.34,163.75 L254.37,164.19 L255.41,164.62 L256.44,165.05 L257.48,165.47 L258.52,165.89 L259.56,166.31 L260.60,166.72 L261.64,167.13 L262.69,167.53 L263.74,167.92 L264.79,168.32 L265.84,168.70 L266.89,169.09 L267.95,169.47 L269.01,169.84 L270.07,170.21 L271.13,170.58 L272.19,170.94 L273.26,171.29 L274.33,171.64 L275.40,171.99 L276.47,172.33 L277.54,172.67 L278.62,173.01 L279.69,173.33 L280.77,173.66 L281.86,173.98 L282.94,174.29 L284.02,174.61 L285.11,174.91 L286.20,175.21 L287.29,175.51 L288.38,175.80 L289.48,176.09 L290.57,176.38 L291.67,176.66 L292.77,176.93 L293.88,177.21 L294.98,177.47 L296.09,177.74 L297.19,178.00 L298.30,178.25 L299.42,178.50 L300.53,178.75 L301.65,178.99 L302.76,179.23 L303.88,179.46 L305.00,179.69 L306.13,179.92 L307.25,180.14 L308.38,180.36 L309.51,180.58 L310.64,180.79 L311.77,180.99 L312.91,181.20 L314.04,181.40 L315.18,181.59 L316.32,181.79 L317.46,181.97 L318.61,182.16 L319.75,182.34 L320.90,182.52 L322.05,182.69 L323.20,182.86 L324.35,183.03 L325.51,183.20 L326.66,183.36 L327.82,183.51 L328.98,183.67 L330.15,183.82 L331.31,183.97 L332.48,184.11 L333.64,184.26 L334.81,184.39 L335.98,184.53 L337.16,184.66 L338.33,184.79 L339.51,184.92 L340.69,185.04 L341.87,185.17 L343.05,185.29 L344.23,185.40 L345.42,185.52 L346.61,185.63 L347.80,185.73 L348.99,185.84 L350.18,185.94 L351.38,186.04 L352.57,186.14 L353.77,186.24" fill="none" stroke="#0000ff" stroke-width="1.5" stroke-linejoin="round"/>
<path d="M53.90,54.40 L53.92,54.40 L53.96,54.40 L54.02,54.40 L54.09,54.40 L54.17,54.40 L54.26,54.40 L54.36,54.40 L54.47,54.40 L54.59,54.41 L54.72,54.41 L54.85,54.41 L55.00,54.41 L55.15,54.42 L55.30,54.42 L55.47,54.43 L55.64,54.43 L55.82,54.44 L56.00,54.45 L56.19,54.46 L56.38,54.47 L56.59,54.48 L56.79,54.49 L57.01,54.51 L57.23,54.52 L57.45,54.54 L57.68,54.56 L57.92,54.58 L58.16,54.60 L58.40,54.62 L58.65,54.65 L58.91,54.67 L59.17,54.70 L59.44,54.73 L59.71,54.77 L59.98,54.80 L60.26,54.84 L60.55,54.88 L60.84,54.92 L61.13,54.97 L61.43,55.02 L61.74,55.07 L62.04,55.12 L62.36,55.18 L62.67,55.24 L62.99,55.30 L63.32,55.36 L63.65,55.43 L63.98,55.50 L64.32,55.58 L64.66,55.65 L65.01,55.74 L65.36,55.82 L65.72,55.91 L66.08,56.00 L66.44,56.10 L66.80,56.20 L67.18,56.30 L67.55,56.41 L67.93,56.52 L68.31,56.63 L68.70,56.75 L69.09,56.87 L69.48,57.00 L69.88,57.13 L70.28,57.27 L70.68,57.41 L71.09,57.55 L71.51,57.70 L71.92,57.86 L72.34,58.02 L72.76,58.18 L73.19,58.35 L73.62,58.52 L74.06,58.70 L74.49,58.88 L74.94,59.07 L75.38,59.26 L75.83,59.46 L76.28,59.66 L76.73,59.87 L77.19,60.08 L77.65,60.30 L78.12,60.52 L78.59,60.75 L79.06,60.98 L79.54,61.22 L80.01,61.46 L80.50,61.71 L80.98,61.97 L81.47,62.22 L81.96,62.49 L82.46,62.76 L82.95,63.04 L83.46,63.32 L83.96,63.60 L84.47,63.89 L84.98,64.19 L85.49,64.49 L86.01,64.80 L86.53,65.11 L87.06,65.43 L87.58,65.76 L88.11,66.08 L88.65,66.42 L89.18,66.76 L89.72,67.10 L90.26,67.45 L90.81,67.81 L91.36,68.17 L91.91,68.53 L92.46,68.90 L93.02,69.28 L93.58,69.66 L94.14,70.05 L94.71,70.44 L95.28,70.83 L95.85,71.23 L96.43,71.64 L97.00,72.05 L97.58,72.46 L98.17,72.88 L98.76,73.31 L99.35,73.74 L99.94,74.17 L100.53,74.61 L101.13,75.05 L101.73,75.50 L102.34,75.95 L102.94,76.40 L103.55,76.86 L104.17,77.32 L104.78,77.79 L105.40,78.26 L106.02,78.74 L106.64,79.21 L107.27,79.70 L107.90,80.18 L108.53,80.67 L109.17,81.16 L109.80,81.66 L110.44,82.16 L111.09,82.66 L111.73,83.16 L112.38,83.67 L113.03,84.18 L113.69,84.70 L114.34,85.21 L115.00,85.73 L115.66,86.25 L116.33,86.78 L117.00,87.30 L117.67,87.83 L118.34,88.36 L119.01,88.89 L119.69,89.43 L120.37,89.97 L121.06,90.50 L121.74,91.04 L122.43,91.59 L123.12,92.13 L123.81,92.67 L124.51,93.22 L125.21,93.76 L125.91,94.31 L126.61,94.86 L127.32,95.41 L128.03,95.96 L128.74,96.51 L129.45,97.07 L130.17,97.62 L130.89,98.17 L131.61,98.73 L132.34,99.28 L133.06,99.83 L133.79,100.39 L134.52,100.94 L135.26,101.50 L135.99,102.05 L136.73,102.61 L137.48,103.16 L138.22,103.71 L138.97,104.27 L139.72,104.82 L140.47,105.37 L141.22,105.92 L141.98,106.47 L142.74,107.02 L143.50,107.57 L144.26,108.12 L145.03,108.67 L145.80,109.21 L146.57,109.76 L147.34,110.30 L148.12,110.85 L148.89,111.39 L149.67,111.93 L150.46,112.46 L151.24,113.00 L152.03,113.54 L152.82,114.07 L153.61,114.60 L154.41,115.13 L155.21,115.66 L156.01,116.19 L156.81,116.71 L157.61,117.23 L158.42,117.76 L159.23,118.27 L160.04,118.79 L160.85,119.31 L161.67,119.82 L162.49,120.33 L163.31,120.84 L164.13,121.34 L164.96,121.85 L165.78,122.35 L166.61,122.85 L167.45,123.34 L168.28,123.84 L169.12,124.33 L169.96,124.82 L170.80,125.30 L171.64,125.79 L172.49,126.27 L173.34,126.75 L174.19,127.22 L175.04,127.70 L175.89,128.17 L176.75,128.64 L177.61,129.10 L178.47,129.56 L179.34,130.02 L180.20,130.48 L181.07,130.94 L181.94,131.39 L182.81,131.84 L183.69,132.28 L184.57,132.73 L185.45,133.17 L186.33,133.61 L187.21,134.04 L188.10,134.47 L188.99,134.90 L189.88,135.33 L190.77,135.75 L191.66,136.17 L192.56,136.59 L193.46,137.01 L194.36,137.42 L195.27,137.83 L196.17,138.23 L197.08,138.64 L197.99,139.04 L198.90,139.44 L199.82,139.83 L200.73,140.22 L201.65,140.61 L202.57,141.00 L203.50,141.38 L204.42,141.76 L205.35,142.14 L206.28,142.52 L207.21,142.89 L208.14,143.26 L209.08,143.63 L210.02,143.99 L210.96,144.35 L211.90,144.71 L212.84,145.07 L213.79,145.42 L214.74,145.77 L215.69,146.12 L216.64,146.46 L217.60,146.80 L218.55,147.14 L219.51,147.48 L220.47,147.81 L221.44,148.14 L222.40,148.47 L223.37,148.80 L224.34,149.12 L225.31,149.44 L226.29,149.76 L227.26,150.07 L228.24,150.39 L229.22,150.70 L230.20,151.00 L231.18,151.31 L232.17,151.61 L233.16,151.91 L234.15,152.21 L235.14,152.50 L236.13,152.80 L237.13,153.09 L238.13,153.38 L239.13,153.66 L240.13,153.94 L241.14,154.22 L242.14,154.50 L243.15,154.78 L244.16,155.05 L245.17,155.32 L246.19,155.59 L247.20,155.86 L248.22,156.12 L249.24,156.38 L250.26,156.64 L251.29,156.90 L252.32,157.16 L253.34,157.41 L254.37,157.66 L255.41,157.91 L256.44,158.16 L257.48,158.40 L258.52,158.64 L259.56,158.88 L260.60,159.12 L261.64,159.36 L262.69,159.59 L263.74,159.82 L264.79,160.05 L265.84,160.28 L266.89,160.51 L267.95,160.73 L269.01,160.95 L270.07,161.17 L271.13,161.39 L272.19,161.61 L273.26,161.82 L274.33,162.03 L275.40,162.24 L276.47,162.45 L277.54,162.66 L278.62,162.87 L279.69,163.07 L280.77,163.27 L281.86,163.47 L282.94,163.67 L284.02,163.86 L285.11,164.06 L286.20,164.25 L287.29,164.44 L288.38,164.63 L289.48,164.82 L290.57,165.01 L291.67,165.19 L292.77,165.37 L293.88,165.56 L294.98,165.74 L296.09,165.91 L297.19,166.09 L298.30,166.27 L299.42,166.44 L300.53,166.61 L301.65,166.78 L302.76,166.95 L303.88,167.12 L305.00,167.28 L306.13,167.45 L307.25,167.61 L308.38,167.77 L309.51,167.93 L310.64,168.09 L311.77,168.25 L312.91,168.41 L314.04,168.56 L315.18,168.71 L316.32,168.87 L317.46,169.02 L318.61,169.17 L319.75,169.31 L320.90,169.46 L322.05,169.61 L323.20,169.75 L324.35,169.89 L325.51,170.04 L326.66,170.18 L327.82,170.32 L328.98,170.45 L330.15,170.59 L331.31,170.73 L332.48,170.86 L333.64,170.99 L334.81,171.13 L335.98,171.26 L337.16,171.39 L338.33,171.52 L339.51,171.64 L340.69,171.77 L341.87,171.90 L343.05,172.02 L344.23,172.14 L345.42,172.27 L346.61,172.39 L347.80,172.51 L348.99,172.63 L350.18,172.75 L351.38,172.86 L352.57,172.98 L353.77,173.09" fill="none" stroke="#0000ff" stroke-width="2" stroke-dasharray="7.4,3.2" stroke-dashoffset="1.3" stroke-opacity="0.7" stroke-linejoin="round"/>
<circle cx="58.80" cy="76.30" r="3.9" fill="#ff0000"/>
<circle cx="68.70" cy="139.40" r="3.9" fill="#ff0000"/>
<circle cx="78.60" cy="165.30" r="3.9" fill="#ff0000"/>
<circle cx="88.40" cy="256.00" r="3.9" fill="#ff0000"/>
<circle cx="98.30" cy="204.70" r="3.9" fill="#ff0000"/>
<circle cx="108.20" cy="183.60" r="3.9" fill="#ff0000"/>
<circle cx="118.00" cy="173.70" r="3.9" fill="#ff0000"/>
<circle cx="127.90" cy="194.10" r="3.9" fill="#ff0000"/>
<circle cx="137.70" cy="190.80" r="3.9" fill="#ff0000"/>
<circle cx="147.60" cy="202.60" r="3.9" fill="#ff0000"/>
<circle cx="157.50" cy="179.60" r="3.9" fill="#ff0000"/>
<circle cx="167.30" cy="207.10" r="3.9" fill="#ff0000"/>
<circle cx="177.20" cy="183.60" r="3.9" fill="#ff0000"/>
<circle cx="187.10" cy="201.00" r="3.9" fill="#ff0000"/>
<circle cx="196.90" cy="171.40" r="3.9" fill="#ff0000"/>
<circle cx="206.80" cy="181.60" r="3.9" fill="#ff0000"/>
<circle cx="216.60" cy="194.20" r="3.9" fill="#ff0000"/>
<circle cx="226.50" cy="184.50" r="3.9" fill="#ff0000"/>
<circle cx="236.40" cy="164.30" r="3.9" fill="#ff0000"/>
<circle cx="246.20" cy="200.00" r="3.9" fill="#ff0000"/>
<circle cx="256.10" cy="148.50" r="3.9" fill="#ff0000"/>
<circle cx="266.00" cy="176.40" r="3.9" fill="#ff0000"/>
<circle cx="275.80" cy="178.70" r="3.9" fill="#ff0000"/>
<circle cx="285.70" cy="184.00" r="3.9" fill="#ff0000"/>
<circle cx="295.50" cy="153.60" r="3.9" fill="#ff0000"/>
<circle cx="305.40" cy="157.90" r="3.9" fill="#ff0000"/>
<circle cx="315.30" cy="172.20" r="3.9" fill="#ff0000"/>
<circle cx="325.10" cy="203.00" r="3.9" fill="#ff0000"/>
<circle cx="335.00" cy="213.50" r="3.9" fill="#ff0000"/>
<circle cx="344.90" cy="201.80" r="3.9" fill="#ff0000"/>
<path d="M67.90,55.20L59.70,51.10L59.70,59.30Z" fill="#008000"/>
<path d="M87.60,91.30L79.40,87.20L79.40,95.40Z" fill="#008000"/>
<path d="M107.30,125.70L99.10,121.60L99.10,129.80Z" fill="#008000"/>
<path d="M127.00,143.70L118.80,139.60L118.80,147.80Z" fill="#008000"/>
<path d="M146.80,172.20L138.60,168.10L138.60,176.30Z" fill="#008000"/>
<path d="M166.50,179.60L158.30,175.50L158.30,183.70Z" fill="#008000"/>
<path d="M186.20,191.50L178.00,187.40L178.00,195.60Z" fill="#008000"/>
<path d="M206.00,190.80L197.80,186.70L197.80,194.90Z" fill="#008000"/>
<path d="M225.70,192.60L217.50,188.50L217.50,196.70Z" fill="#008000"/>
<path d="M245.40,184.50L237.20,180.40L237.20,188.60Z" fill="#008000"/>
<path d="M265.10,183.60L256.90,179.50L256.90,187.70Z" fill="#008000"/>
<path d="M284.90,188.70L276.70,184.60L276.70,192.80Z" fill="#008000"/>
<path d="M304.60,181.70L296.40,177.60L296.40,185.80Z" fill="#008000"/>
<path d="M324.30,193.30L316.10,189.20L316.10,197.40Z" fill="#008000"/>
<path d="M344.00,192.50L335.80,188.40L335.80,196.60Z" fill="#008000"/>
<rect x="59.80" y="43.90" width="8.0" height="8.0" fill="#0000ff"/>
<rect x="79.50" y="59.60" width="8.0" height="8.0" fill="#0000ff"/>
<rect x="99.20" y="80.30" width="8.0" height="8.0" fill="#0000ff"/>
<rect x="118.90" y="88.40" width="8.0" height="8.0" fill="#0000ff"/>
<rect x="138.70" y="100.00" width="8.0" height="8.0" fill="#0000ff"/>
<rect x="158.40" y="99.00" width="8.0" height="8.0" fill="#0000ff"/>
<rect x="178.10" y="118.20" width="8.0" height="8.0" fill="#0000ff"/>
<rect x="197.90" y="116.60" width="8.0" height="8.0" fill="#0000ff"/>
<rect x="217.60" y="119.70" width="8.0" height="8.0" fill="#0000ff"/>
<rect x="237.30" y="106.40" width="8.0" height="8.0" fill="#0000ff"/>
<rect x="257.00" y="132.70" width="8.0" height="8.0" fill="#0000ff"/>
<rect x="276.80" y="151.70" width="8.0" height="8.0" fill="#0000ff"/>
<rect x="296.50" y="166.30" width="8.0" height="8.0" fill="#0000ff"/>
<rect x="316.20" y="166.80" width="8.0" height="8.0" fill="#0000ff"/>
<rect x="335.90" y="146.60" width="8.0" height="8.0" fill="#0000ff"/>
</g>
<rect x="54" y="0" width="296" height="1" fill="#555"/>
<rect x="53" y="236" width="297" height="1" fill="#808080"/>
<rect x="53" y="0" width="1" height="237" fill="#9b9b9b"/>
<rect x="54" y="1" width="1" height="235" fill="#d2d2d2" fill-opacity="0.6"/>
<rect x="349" y="0" width="1" height="237" fill="#969696"/>
<path d="M53.90,236.4v2.6 M93.36,236.4v2.6 M132.81,236.4v2.6 M172.27,236.4v2.6 M211.73,236.4v2.6 M251.19,236.4v2.6 M290.64,236.4v2.6 M330.10,236.4v2.6 M53.9,20.65h-2.6 M53.9,54.40h-2.6 M53.9,88.15h-2.6 M53.9,121.90h-2.6 M53.9,155.65h-2.6 M53.9,189.40h-2.6 M53.9,223.15h-2.6" stroke="#000" stroke-width="0.8"/>
<text id="xt0" x="50.25" y="249.25" font-size="11.60" textLength="7.15" lengthAdjust="spacingAndGlyphs">0</text>
<text id="xt1" x="82.53" y="249.25" font-size="11.60" textLength="21.20" lengthAdjust="spacingAndGlyphs">100</text>
<text id="xt2" x="122.32" y="249.25" font-size="11.60" textLength="20.94" lengthAdjust="spacingAndGlyphs">200</text>
<text id="xt3" x="161.86" y="249.25" font-size="11.60" textLength="20.68" lengthAdjust="spacingAndGlyphs">300</text>
<text id="xt4" x="201.64" y="249.25" font-size="11.60" textLength="20.43" lengthAdjust="spacingAndGlyphs">400</text>
<text id="xt5" x="240.68" y="249.25" font-size="11.60" textLength="20.94" lengthAdjust="spacingAndGlyphs">500</text>
<text id="xt6" x="280.21" y="249.25" font-size="11.60" textLength="20.94" lengthAdjust="spacingAndGlyphs">600</text>
<text id="xt7" x="319.49" y="249.25" font-size="11.60" textLength="20.94" lengthAdjust="spacingAndGlyphs">700</text>
<text id="yt1.25" x="23.00" y="24.78" font-size="11.60" textLength="25.95" lengthAdjust="spacingAndGlyphs">1.25</text>
<text id="yt1.00" x="23.00" y="58.53" font-size="11.60" textLength="25.95" lengthAdjust="spacingAndGlyphs">1.00</text>
<text id="yt0.75" x="23.50" y="92.28" font-size="11.60" textLength="25.43" lengthAdjust="spacingAndGlyphs">0.75</text>
<text id="yt0.50" x="23.50" y="126.03" font-size="11.60" textLength="25.43" lengthAdjust="spacingAndGlyphs">0.50</text>
<text id="yt0.25" x="23.50" y="159.78" font-size="11.60" textLength="25.43" lengthAdjust="spacingAndGlyphs">0.25</text>
<text id="yt0.00" x="23.50" y="193.53" font-size="11.60" textLength="25.43" lengthAdjust="spacingAndGlyphs">0.00</text>
<text id="yt−0.25" x="14.50" y="227.28" font-size="11.60" textLength="34.44" lengthAdjust="spacingAndGlyphs">−0.25</text>
<text id="xlabel" x="153.00" y="264.00" font-size="12.20" textLength="97.47" lengthAdjust="spacingAndGlyphs">UV Distance (<tspan font-style="italic">k&#955;</tspan>)</text>
<text id="ylabel" transform="translate(10.90,188.00) rotate(-90)" font-size="12.20" textLength="134.55" lengthAdjust="spacingAndGlyphs">Real (relative to peak)</text>
<rect x="216.0" y="5.9" width="128.6" height="83.4" rx="2.5" fill="#fff" fill-opacity="0.8" stroke="#e2e2e2" stroke-width="1.2"/>
<path d="M230.2,15.3V25.7M227.0,15.3H233.39999999999998M227.0,25.7H233.39999999999998" stroke="#ff0000" stroke-width="1"/>
<circle cx="230.2" cy="20.5" r="4.0" fill="#ff0000"/>
<path d="M230.2,42.8V53.2M227.0,42.8H233.39999999999998M227.0,53.2H233.39999999999998" stroke="#008000" stroke-width="1"/>
<path d="M234.29999999999998,48 L226.1,43.9 L226.1,52.1Z" fill="#008000"/>
<path d="M230.2,69.7V80.10000000000001M227.0,69.7H233.39999999999998M227.0,80.10000000000001H233.39999999999998" stroke="#0000ff" stroke-width="1"/>
<rect x="226.39999999999998" y="71.1" width="7.6" height="7.6" fill="#0000ff"/>
<text id="ln0" x="248.90" y="17.40" font-size="10.30" textLength="45.10" lengthAdjust="spacingAndGlyphs">HLS0546</text>
<text id="lp0" x="248.75" y="28.95" font-size="10.30">(</text>
<text id="lR0" x="252.70" y="28.95" font-size="10.00" textLength="7.03" lengthAdjust="spacingAndGlyphs"><tspan font-style="italic">R</tspan></text>
<text id="le0" x="259.25" y="30.75" font-size="7.70" textLength="5.06" lengthAdjust="spacingAndGlyphs">e</text>
<text id="lq0" x="267.15" y="28.95" font-size="10.00" textLength="8.08" lengthAdjust="spacingAndGlyphs">=</text>
<text id="lv0" x="277.75" y="28.95" font-size="10.00" textLength="62.06" lengthAdjust="spacingAndGlyphs">1.68±0.27")</text>
<text id="ln1" x="248.90" y="44.90" font-size="10.30" textLength="45.60" lengthAdjust="spacingAndGlyphs">HLS0612</text>
<text id="lp1" x="248.75" y="56.70" font-size="10.30">(</text>
<text id="lR1" x="252.70" y="56.70" font-size="10.00" textLength="7.03" lengthAdjust="spacingAndGlyphs"><tspan font-style="italic">R</tspan></text>
<text id="le1" x="259.25" y="58.50" font-size="7.70" textLength="5.06" lengthAdjust="spacingAndGlyphs">e</text>
<text id="lq1" x="267.15" y="56.70" font-size="10.00" textLength="8.08" lengthAdjust="spacingAndGlyphs">=</text>
<text id="lv1" x="278.25" y="56.70" font-size="10.00" textLength="61.55" lengthAdjust="spacingAndGlyphs">0.37±0.02")</text>
<text id="ln2" x="248.90" y="71.50" font-size="10.30" textLength="57.10" lengthAdjust="spacingAndGlyphs">HLS0553-C</text>
<text id="lp2" x="248.75" y="83.00" font-size="10.30">(</text>
<text id="lR2" x="252.70" y="83.00" font-size="10.00" textLength="7.03" lengthAdjust="spacingAndGlyphs"><tspan font-style="italic">R</tspan></text>
<text id="le2" x="259.25" y="84.80" font-size="7.70" textLength="5.06" lengthAdjust="spacingAndGlyphs">e</text>
<text id="lq2" x="267.15" y="83.00" font-size="10.00" textLength="8.08" lengthAdjust="spacingAndGlyphs">=</text>
<text id="lv2" x="278.25" y="83.00" font-size="10.00" textLength="61.55" lengthAdjust="spacingAndGlyphs">0.14±0.01")</text>
<rect x="58.9" y="213.6" width="194.2" height="17.6" rx="2.5" fill="#fff" fill-opacity="0.8" stroke="#e2e2e2" stroke-width="1.2"/>
<path d="M62.6,221.5H84" stroke="#000" stroke-width="1.5"/>
<path d="M159.4,222H177.7" stroke="#000" stroke-width="2" stroke-dasharray="7.4,3.2" stroke-opacity="0.7"/>
<text id="g" x="91.80" y="225.10" font-size="11.40" textLength="47.21" lengthAdjust="spacingAndGlyphs">Gaussian</text>
<text id="e" x="187.75" y="225.00" font-size="11.40" textLength="61.53" lengthAdjust="spacingAndGlyphs">Exponential</text>
</svg></body></html>
